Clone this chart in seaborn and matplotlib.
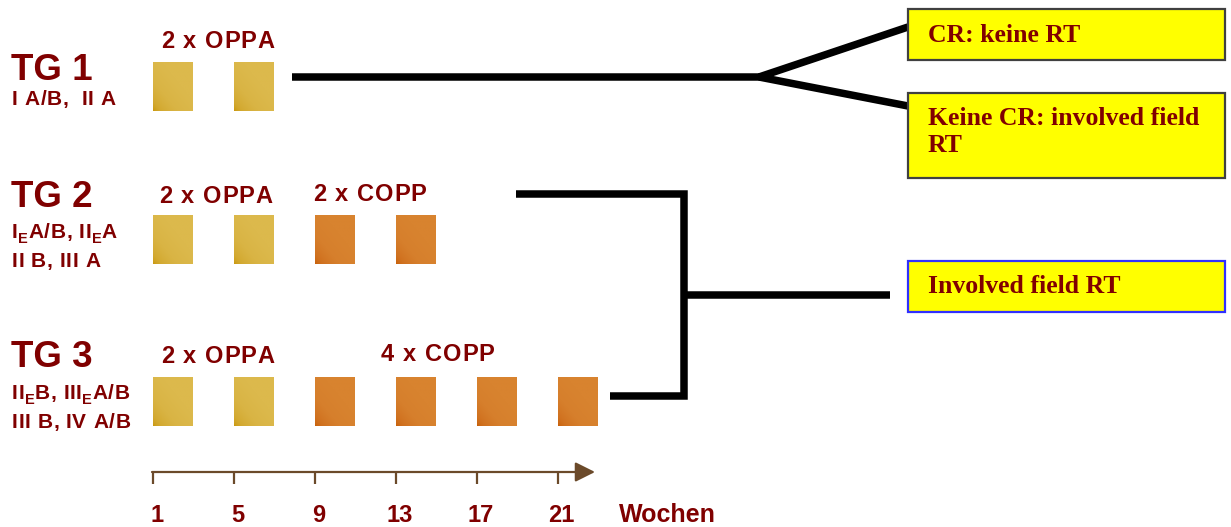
import numpy as np
import matplotlib
matplotlib.use("Agg")
import matplotlib.pyplot as plt
import seaborn as sns
from matplotlib.colors import LinearSegmentedColormap
from matplotlib.patches import Rectangle
from matplotlib.font_manager import FontProperties

# ---------------- data ----------------
groups = ["TG 1", "TG 2", "TG 3"]
# "_" marks the following character as a subscript
stages = [
    ["I A/B,  II A"],
    ["I_EA/B, II_EA", "II B, III A"],
    ["II_EB, III_EA/B", "III B, IV A/B"],
]
oppa_courses = [2, 2, 2]
copp_courses = [0, 2, 4]
course_start_weeks = [1, 5, 9, 13, 17, 21]
course_length_weeks = 2
week_ticks = [1, 5, 9, 13, 17, 21]
week_tick_labels = ["1", "5", "9", "13", "17", "21"]
axis_label = "Wochen"
course_labels = [["2 x OPPA"], ["2 x OPPA", "2 x COPP"], ["2 x OPPA", "4 x COPP"]]
outcomes = ["CR: keine RT", "Keine CR: involved field", "RT", "Involved field RT"]

# ---------------- style ----------------
sns.set_theme(style="white")
plt.rcParams["font.family"] = ["Liberation Sans", "DejaVu Sans"]
plt.rcParams["font.weight"] = "bold"

MAROON = "#800000"
W, H = 1231, 527
fig = plt.figure(figsize=(W / 100, H / 100), dpi=100)
ax = fig.add_axes([0, 0, 1, 1])
R = fig.canvas.get_renderer()
PX0, PXW = 153.0, 20.25  # pixel of week 1, pixels per week


def X(px):
    return 1 + (px - PX0) / PXW


ax.set_xlim(X(0), X(W))
ax.set_ylim(H, 0)
ax.axis("off")


def adv(ch, fp):
    a = R.get_text_width_height_descent("I" + ch + "I", fp, ismath=False)[0]
    b = R.get_text_width_height_descent("II", fp, ismath=False)[0]
    return a - b


def tracked(xp, yb, s, size, track, color=MAROON):
    fp = FontProperties(family=["Liberation Sans", "DejaVu Sans"], weight="bold", size=size)
    fps = FontProperties(family=["Liberation Sans", "DejaVu Sans"], weight="bold", size=size * 0.7)
    x = xp
    sub = False
    for ch in s:
        if ch == "_":
            sub = True
            continue
        if sub:
            ax.text(X(x), yb + size * 0.32, ch, fontproperties=fps, color=color,
                    va="baseline", ha="left")
            x += adv(ch, fps) + track * 0.5
            sub = False
        else:
            ax.text(X(x), yb, ch, fontproperties=fp, color=color, va="baseline", ha="left")
            x += adv(ch, fp) + track


# gradient colormaps
gold = LinearSegmentedColormap.from_list("gold", ["#c8960a", "#d3a930", "#d9b444", "#dcb94c"])
orange = LinearSegmentedColormap.from_list("orng", ["#c65e08", "#d0711f", "#d67f2c", "#d8832f"])
n = 64
ii, jj = np.mgrid[0:n, 0:n] / (n - 1)
grad = np.clip((ii + jj) / 1.2, 0, 1) ** 0.6

row_tops = [62, 215, 377]
bar_h = 49
for g in range(3):
    n_o, n_c = oppa_courses[g], copp_courses[g]
    starts = course_start_weeks[: n_o + n_c]
    kinds = ["o"] * n_o + ["c"] * n_c
    bars = ax.bar(starts, bar_h, width=course_length_weeks * 0.985, bottom=row_tops[g],
                  align="edge", color="none", edgecolor="none")
    for b, k in zip(bars, kinds):
        x0, y0 = b.get_x(), b.get_y()
        im = ax.imshow(grad, cmap=gold if k == "o" else orange, origin="lower",
                       extent=(x0, x0 + b.get_width(), y0 + b.get_height(), y0),
                       aspect="auto", zorder=2, interpolation="bilinear")
        im.set_clip_path(b)

ax.set_xlim(X(0), X(W))
ax.set_ylim(H, 0)

# group labels
tg_base = [80, 207, 367]
stage_base = [[105], [238, 267], [399, 428]]
for g in range(3):
    ax.text(X(11), tg_base[g], groups[g], fontsize=26.5, color=MAROON, fontweight="bold",
            va="baseline", ha="left")
    for s, yb in zip(stages[g], stage_base[g]):
        tracked(12, yb, s, 15, 0.6)

course_label_pos = [[(161, 48)], [(159, 203), (313, 201)], [(161, 363), (381, 361)]]
for g in range(3):
    for lab, (xp, yb) in zip(course_labels[g], course_label_pos[g]):
        tracked(xp, yb, lab, 17, 1.0)

# connectors
lw = 5.4
ax.plot([X(292), X(760)], [77, 77], color="black", lw=lw, solid_capstyle="butt")
ax.plot([X(759), X(908)], [77, 27], color="black", lw=lw, solid_capstyle="butt")
ax.plot([X(759), X(908)], [77, 106], color="black", lw=lw, solid_capstyle="butt")
ax.plot([X(516), X(684), X(684), X(610)], [194, 194, 396, 396], color="black", lw=lw,
        solid_joinstyle="miter", solid_capstyle="butt")
ax.plot([X(684), X(890)], [295, 295], color="black", lw=lw, solid_capstyle="butt")

# outcome boxes
boxes = [(908, 9, 60, "#404040"), (908, 93, 178, "#404040"), (908, 261, 312, "#3030ff")]
for xl, yt, yb, ec in boxes:
    ax.add_patch(Rectangle((X(xl), yt), X(1225) - X(xl), yb - yt, facecolor="#ffff00",
                           edgecolor=ec, lw=1.6, zorder=3))
serif = ["Liberation Serif", "DejaVu Serif"]
for txt, yb in zip(outcomes, [42, 125, 152, 293]):
    ax.text(X(928), yb, txt, fontsize=18.5, family=serif, fontweight="bold", color=MAROON,
            va="baseline", ha="left", zorder=4)

# week axis
AXC = "#6b4a2a"
ax.annotate("", xy=(X(595), 472), xytext=(X(152), 472),
            arrowprops=dict(arrowstyle="-|>,head_length=0.6,head_width=0.3", color=AXC,
                            lw=1.6, mutation_scale=20, shrinkA=0, shrinkB=0))
ax.vlines(week_ticks, 472, 484, color=AXC, lw=1.6)
for w, lab in zip(week_ticks, week_tick_labels):
    ax.text(w + 0.18, 522, lab, fontsize=17, color=MAROON, fontweight="bold",
            ha="center", va="baseline")
ax.text(X(619), 522, axis_label, fontsize=18, color=MAROON, fontweight="bold",
        ha="left", va="baseline")

fig.savefig("out.png", dpi=100, facecolor="white")
